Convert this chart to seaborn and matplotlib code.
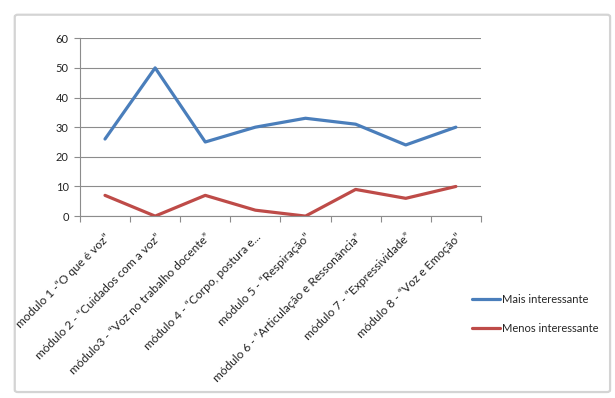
import matplotlib
matplotlib.use("Agg")
import matplotlib.pyplot as plt
import seaborn as sns
import pandas as pd
from matplotlib.patches import FancyBboxPatch

categories = [
    "modulo 1 -\u201cO que é voz\u201d",
    "módulo 2 - \u201cCuidados com a voz\u201d",
    "módulo3 - \u201cVoz no trabalho docente\u201d",
    "módulo 4 - \u201cCorpo, postura e...",
    "módulo 5 - \u201cRespiração\u201d",
    "módulo 6 - \u201cArticulação e Ressonância\u201d",
    "módulo 7 - \u201cExpressividade\u201d",
    "módulo 8 - \u201cVoz e Emoção\u201d",
]
series_names = ["Mais interessante", "Menos interessante"]
mais = [26, 50, 25, 30, 33, 31, 24, 30]
menos = [7, 0, 7, 2, 0, 9, 6, 10]
y_ticks = [0, 10, 20, 30, 40, 50, 60]
colors = ["#4A7EBB", "#BE4B48"]

df = pd.DataFrame({
    "idx": list(range(len(categories))) * 2,
    "valor": mais + menos,
    "serie": [series_names[0]] * len(mais) + [series_names[1]] * len(menos),
})

sns.set_theme(style="white")
plt.rcParams["font.family"] = ["Lato", "DejaVu Sans"]

fig = plt.figure(figsize=(6.15, 3.98), dpi=100)
ax = fig.add_axes([0.130, 0.457, 0.652, 0.447])

sns.lineplot(data=df, x="idx", y="valor", hue="serie", palette=colors,
             linewidth=2.3, ax=ax, legend=True)

ax.set_xlim(-0.5, len(categories) - 0.5)
ax.set_ylim(0, 60)
ax.set_yticks(y_ticks)
ax.set_yticklabels([str(v) for v in y_ticks], fontsize=8, color="#222222")
ax.yaxis.grid(True, color="#8c8c8c", linewidth=0.8)
ax.set_axisbelow(True)

ax.set_xticks(range(len(categories)))
ax.set_xticklabels(categories, rotation=45, ha="right", rotation_mode="anchor",
                   fontsize=8.6, color="#222222")
ax.set_xticks([i - 0.5 for i in range(len(categories) + 1)], minor=True)
ax.tick_params(axis="x", which="major", length=0, pad=11)
ax.tick_params(axis="x", which="minor", length=4, color="#8c8c8c", width=0.8, direction="out", bottom=True)
ax.tick_params(axis="y", which="major", length=4, color="#8c8c8c", width=0.8, direction="out", left=True, pad=4)

for s in ["top", "right"]:
    ax.spines[s].set_visible(False)
for s in ["left", "bottom"]:
    ax.spines[s].set_color("#8c8c8c")
    ax.spines[s].set_linewidth(0.8)
ax.set_xlabel("")
ax.set_ylabel("")

handles, labels = ax.get_legend_handles_labels()
ax.legend(handles, labels, loc="center left", bbox_to_anchor=(0.752, 0.211),
          bbox_transform=fig.transFigure, frameon=False, fontsize=8,
          handlelength=2.5, handletextpad=0.2, labelspacing=1.6)

border = FancyBboxPatch((0.024, 0.015), 0.968, 0.948, boxstyle="round,pad=0,rounding_size=0.005",
                        transform=fig.transFigure, facecolor="none",
                        edgecolor="#d4d4d4", linewidth=1.6)
fig.patches.append(border)

fig.savefig("out.png", dpi=100)
